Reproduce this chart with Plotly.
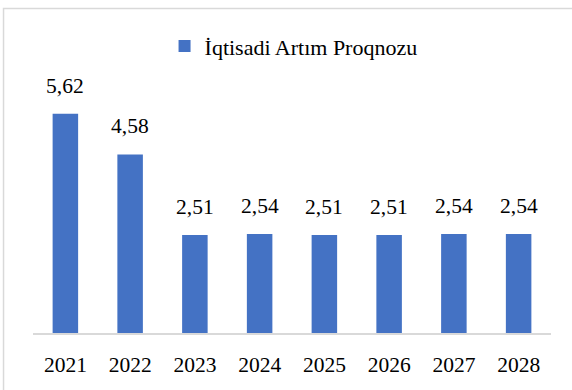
import plotly.graph_objects as go

# Forecast data
years = ["2021", "2022", "2023", "2024", "2025", "2026", "2027", "2028"]
growth = [5.62, 4.58, 2.51, 2.54, 2.51, 2.51, 2.54, 2.54]
labels = [f"{v:.2f}".replace(".", ",") for v in growth]
series_name = "İqtisadi Artım Proqnozu"

BAR_COLOR = "#4472C4"
FONT = "Liberation Serif"
TEXT_SIZE = 21.5

fig = go.Figure()
fig.add_trace(go.Bar(
    x=years,
    y=growth,
    name=series_name,
    marker=dict(color=BAR_COLOR, line=dict(width=0)),
    showlegend=True,
))

# Value labels above each bar (category axis positions are addressed by index)
for i, (val, lab) in enumerate(zip(growth, labels)):
    fig.add_annotation(
        x=i, y=val, text=lab, showarrow=False,
        xref="x", yref="y", yanchor="bottom", yshift=14,
        font=dict(family=FONT, size=TEXT_SIZE, color="#000000"),
    )

# Light gray frame around the chart area
fig.add_shape(
    type="rect", xref="paper", yref="paper",
    x0=-0.0569, x1=1.3, y0=-0.5, y1=1.3868,
    line=dict(color="#d9d9d9", width=1.5),
    fillcolor="rgba(0,0,0,0)", layer="below",
)

fig.update_layout(
    width=572, height=390,
    margin=dict(l=33, r=21, t=99, b=57),
    paper_bgcolor="white", plot_bgcolor="white",
    bargap=0.606,
    font=dict(family=FONT, size=TEXT_SIZE, color="#000000"),
    showlegend=True,
    legend=dict(
        orientation="h", x=0.503, xanchor="center", y=1.226, yanchor="middle",
        font=dict(family=FONT, size=22, color="#000000"),
        bgcolor="rgba(0,0,0,0)",
    ),
    xaxis=dict(
        type="category", range=[-0.5, len(years) - 0.5],
        showline=True, linecolor="#d9d9d9", linewidth=1.5,
        showgrid=False, ticks="", ticklabelstandoff=11,
        tickfont=dict(family=FONT, size=TEXT_SIZE, color="#000000"),
    ),
    yaxis=dict(
        range=[0, 6], visible=False, showgrid=False, zeroline=False,
    ),
)

fig.write_html("out.html")
